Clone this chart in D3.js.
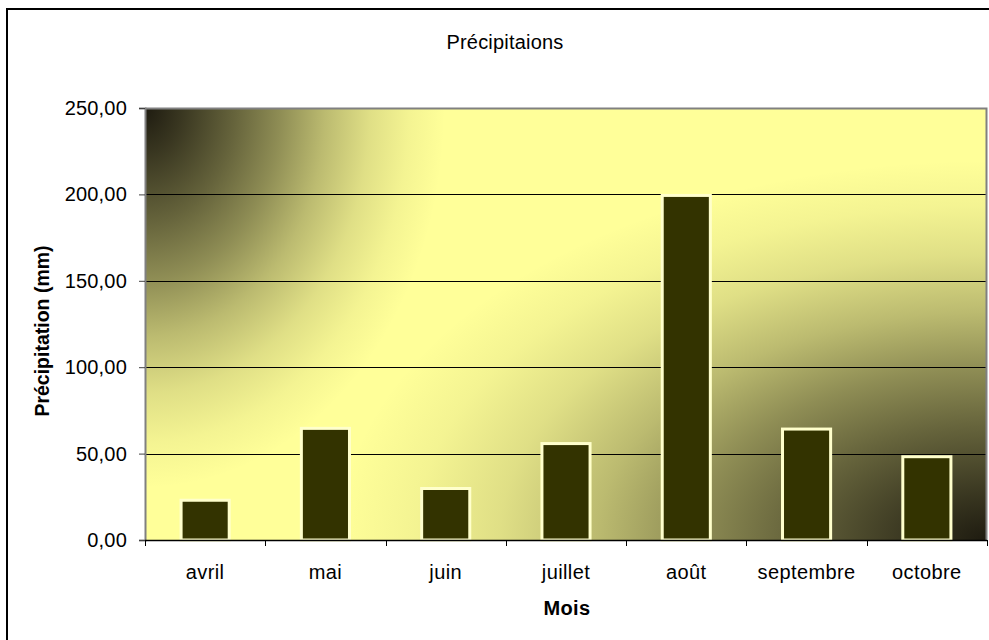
<!DOCTYPE html>
<html>
<head>
<meta charset="utf-8">
<script src="https://cdn.jsdelivr.net/npm/d3@7"></script>
<style>
  html, body { margin: 0; padding: 0; background: #fff; }
  svg { display: block; }
  text { font-family: "Liberation Sans", Arial, Helvetica, sans-serif; fill: #000; }
</style>
</head>
<body>
<svg id="chart" width="989" height="640"></svg>
<script>
// Monthly precipitation (mm)
const months = ["avril", "mai", "juin", "juillet", "août", "septembre", "octobre"];
const precipitation = [23.0, 64.6, 29.8, 55.8, 199.4, 64.2, 48.2];
const yTicks = [0, 50, 100, 150, 200, 250];

const chartTitle = "Précipitaions";
const yTitle = "Précipitation (mm)";
const xTitle = "Mois";

const svg = d3.select("#chart");
const W = 989, H = 640;
const plot = { left: 145, right: 987, top: 108, bottom: 540 };

const x = d3.scaleBand()
  .domain(months)
  .range([plot.left, plot.right])
  .paddingInner(0.6)
  .paddingOuter(0.3);

const y = d3.scaleLinear()
  .domain([0, 250])
  .range([plot.bottom, plot.top]);

const fmt = v => d3.format(".2f")(v).replace(".", ",");

// background
svg.append("rect").attr("width", W).attr("height", H).attr("fill", "#fff");

// outer chart frame (continues past the right and bottom edges)
svg.append("rect")
  .attr("x", 7).attr("y", 9)
  .attr("width", 1100).attr("height", 800)
  .attr("fill", "none").attr("stroke", "#000").attr("stroke-width", 2);

// plot area fill: pale yellow with darker corners
const defs = svg.append("defs");
function cornerShade(id, cx, cy, rx, ry) {
  const g = defs.append("radialGradient")
    .attr("id", id)
    .attr("gradientUnits", "userSpaceOnUse")
    .attr("cx", 0).attr("cy", 0).attr("r", 1)
    .attr("gradientTransform", `translate(${cx},${cy}) scale(${rx},${ry})`);
  const stops = [[0, 1], [0.12, 0.88], [0.3, 0.68], [0.45, 0.5], [0.6, 0.3], [0.75, 0.14], [0.88, 0.05], [1, 0]];
  stops.forEach(([o, a]) => g.append("stop")
    .attr("offset", o).attr("stop-color", "#1e1b10").attr("stop-opacity", a));
}
cornerShade("shadeTL", plot.left, plot.top, 300, 380);
cornerShade("shadeBR", plot.right, plot.bottom, 650, 380);

const pw = plot.right - plot.left, ph = plot.bottom - plot.top;
svg.append("rect").attr("x", plot.left).attr("y", plot.top)
  .attr("width", pw).attr("height", ph).attr("fill", "#ffff99");
svg.append("rect").attr("x", plot.left).attr("y", plot.top)
  .attr("width", pw).attr("height", ph).attr("fill", "url(#shadeTL)");
svg.append("rect").attr("x", plot.left).attr("y", plot.top)
  .attr("width", pw).attr("height", ph).attr("fill", "url(#shadeBR)");

// horizontal gridlines
svg.append("g").selectAll("line")
  .data(yTicks.filter(t => t > 0 && t < 250))
  .join("line")
  .attr("x1", plot.left).attr("x2", plot.right)
  .attr("y1", d => Math.round(y(d)) + 0.5).attr("y2", d => Math.round(y(d)) + 0.5)
  .attr("stroke", "#000").attr("stroke-width", 1);

// plot border (top and right)
svg.append("path")
  .attr("d", `M${plot.left},${plot.top + 0.5}H${plot.right - 0.5}V${plot.bottom}`)
  .attr("fill", "none").attr("stroke", "#808080").attr("stroke-width", 2);

// bars
svg.append("g").selectAll("rect")
  .data(months.map((m, i) => ({ m, v: precipitation[i] })))
  .join("rect")
  .attr("x", d => x(d.m))
  .attr("y", d => y(d.v))
  .attr("width", x.bandwidth())
  .attr("height", d => y(0) - y(d.v))
  .attr("fill", "#333300")
  .attr("stroke", "#ffffcc")
  .attr("stroke-width", 3);

// y axis
const yAxis = d3.axisLeft(y)
  .tickValues(yTicks)
  .tickSize(6)
  .tickPadding(12)
  .tickFormat(fmt);
const gy = svg.append("g")
  .attr("transform", `translate(${plot.left},0)`)
  .call(yAxis);
gy.select(".domain").attr("stroke", "#808080").attr("stroke-width", 2);
gy.selectAll(".tick line").attr("stroke", "#404040");
gy.selectAll(".tick text")
  .attr("font-size", 20)
  .attr("letter-spacing", 0.2)
  .attr("font-family", "Liberation Sans, Arial, sans-serif");

// x axis (ticks at category boundaries)
const step = x.step();
const gap = (step - x.bandwidth()) / 2;
const boundaries = months.map(m => x(m) - gap).concat([x(months[months.length - 1]) + x.bandwidth() + gap]);
const gx = svg.append("g");
gx.append("line")
  .attr("x1", plot.left).attr("x2", plot.right)
  .attr("y1", plot.bottom + 0.5).attr("y2", plot.bottom + 0.5)
  .attr("stroke", "#000").attr("stroke-width", 1.5);
gx.selectAll("line.tick")
  .data(boundaries)
  .join("line")
  .attr("class", "tick")
  .attr("x1", d => Math.round(d) + 0.5).attr("x2", d => Math.round(d) + 0.5)
  .attr("y1", plot.bottom).attr("y2", plot.bottom + 6)
  .attr("stroke", "#000");
gx.selectAll("text")
  .data(months)
  .join("text")
  .attr("x", d => x(d) + x.bandwidth() / 2)
  .attr("y", 579)
  .attr("text-anchor", "middle")
  .attr("font-size", 20)
  .attr("letter-spacing", 0.4)
  .text(d => d);

// titles
svg.append("text")
  .attr("x", 505).attr("y", 49)
  .attr("text-anchor", "middle")
  .attr("font-size", 20)
  .attr("letter-spacing", 0.2)
  .text(chartTitle);

svg.append("text")
  .attr("transform", "translate(49,331) rotate(-90)")
  .attr("text-anchor", "middle")
  .attr("font-size", 19.5)
  .attr("font-weight", "bold")
  .text(yTitle);

svg.append("text")
  .attr("x", 567).attr("y", 615)
  .attr("text-anchor", "middle")
  .attr("font-size", 20)
  .attr("font-weight", "bold")
  .attr("letter-spacing", 0.3)
  .text(xTitle);
</script>
</body>
</html>
